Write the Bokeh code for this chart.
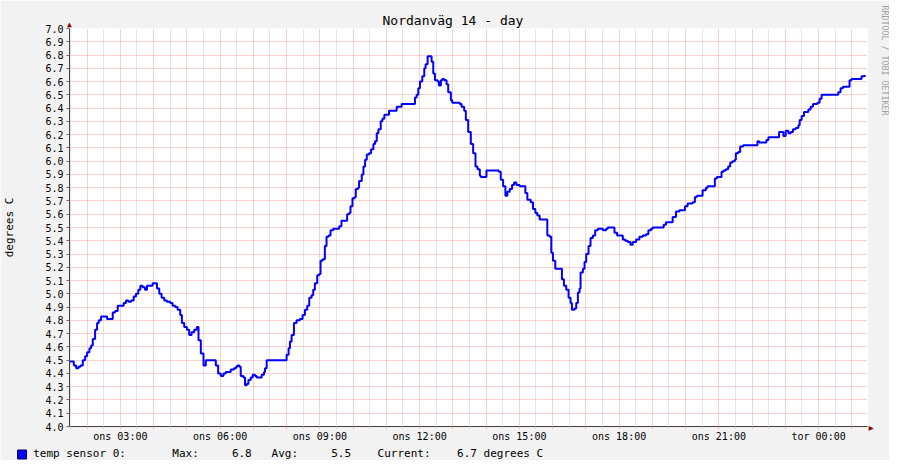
from bokeh.plotting import figure
from bokeh.models import (ColumnDataSource, FixedTicker, Range1d, Title,
                          PrintfTickFormatter)
from bokeh.embed import file_html
from bokeh.resources import INLINE

# ---------------- data ----------------
title_text = "Nordanväg 14 - day"
y_axis_text = "degrees C"
series_name = "temp sensor 0:"
unit_text = "degrees C"
watermark = "RRDTOOL / TOBI OETIKER"
stat_max = 6.8
stat_avg = 5.5
stat_cur = 6.7

x_start, x_end = 1.47, 25.47          # hours counted from "ons 00:00"
y_min, y_max = 4.0, 7.0

x_label_hours = [3, 6, 9, 12, 15, 18, 21, 24]
x_labels = ["ons 03:00", "ons 06:00", "ons 09:00", "ons 12:00",
            "ons 15:00", "ons 18:00", "ons 21:00", "tor 00:00"]
x_hour_ticks = list(range(2, 26))
x_half_ticks = [h + 0.5 for h in range(1, 25)]
y_ticks = [round(4.0 + 0.1 * i, 1) for i in range(31)]

hours = [
    1.47, 1.57, 1.60, 1.67, 1.74, 1.80, 1.87, 1.94, 2.00, 2.07,
    2.12, 2.17, 2.24, 2.30, 2.35, 2.42, 2.52, 2.60, 2.72, 2.77,
    2.84, 2.92, 3.02, 3.10, 3.17, 3.24, 3.32, 3.40, 3.47, 3.54,
    3.60, 3.67, 3.74, 3.80, 3.90, 3.97, 4.04, 4.10, 4.17, 4.24,
    4.32, 4.40, 4.50, 4.57, 4.65, 4.72, 4.80, 4.85, 4.92, 5.00,
    5.07, 5.14, 5.22, 5.30, 5.35, 5.42, 5.50, 5.57, 5.72, 5.82,
    5.87, 5.94, 6.02, 6.10, 6.17, 6.24, 6.32, 6.42,
    6.48, 6.52, 6.58, 6.62, 6.70, 6.75, 6.80, 6.85, 6.92, 6.98,
    7.05, 7.10, 7.22, 7.25, 7.32, 7.35, 7.40, 7.95, 8.00, 8.06,
    8.10, 8.15, 8.22, 8.30, 8.40, 8.48, 8.55, 8.62, 8.68, 8.75,
    8.80, 8.85, 8.92, 8.98, 9.02, 9.08, 9.15, 9.20, 9.26, 9.32,
    9.40, 9.52, 9.58, 9.65, 9.75, 9.82, 9.88, 9.92, 9.98, 10.05,
    10.08, 10.15, 10.18,
    10.26, 10.31, 10.36, 10.41, 10.48, 10.54, 10.61, 10.66, 10.71, 10.76,
    10.83, 10.88, 10.94, 11.04, 11.08, 11.16, 11.26, 11.31, 11.38, 11.46,
    11.81, 11.86, 11.91, 11.96, 12.01, 12.08, 12.14, 12.18, 12.24, 12.31,
    12.36, 12.41, 12.46, 12.54, 12.58, 12.64, 12.68, 12.74, 12.81, 12.86,
    12.94, 12.98, 13.21, 13.26, 13.34, 13.39, 13.46, 13.54, 13.61, 13.68,
    13.74, 13.81,
    13.84, 13.96, 14.01, 14.16, 14.31, 14.38, 14.44, 14.51, 14.58, 14.64,
    14.71, 14.78, 14.84, 14.88, 14.91, 15.01, 15.11, 15.18, 15.24, 15.34,
    15.41, 15.48, 15.54, 15.61, 15.78, 15.84, 15.91, 15.96, 16.01, 16.08,
    16.21, 16.28, 16.34, 16.41, 16.48, 16.54, 16.58, 16.66, 16.71, 16.76,
    16.81, 16.84, 16.91, 16.96, 17.01, 17.08, 17.14, 17.21, 17.28, 17.36,
    17.44,
    17.46, 17.51, 17.61, 17.66, 17.81, 17.86, 17.94, 18.04, 18.11, 18.18,
    18.26, 18.34, 18.41, 18.51, 18.61, 18.71, 18.81, 18.88, 18.96, 19.01,
    19.26, 19.34, 19.41, 19.54, 19.61, 19.71, 19.81, 19.91, 19.98, 20.06,
    20.21, 20.28, 20.34, 20.46, 20.51, 20.61, 20.66, 20.81, 20.88, 20.94,
    21.04, 21.08, 21.14, 21.21, 21.28, 21.34, 21.41, 21.48, 21.51, 21.58,
    21.64,
    21.73, 22.11, 22.16, 22.21, 22.36, 22.43, 22.49, 22.76, 22.81, 22.89,
    22.94, 23.01, 23.09, 23.16, 23.23, 23.31, 23.39, 23.43, 23.49, 23.56,
    23.63, 23.69, 23.76, 23.83, 23.96, 24.03, 24.09, 24.51, 24.59, 24.66,
    24.73, 24.89, 24.93, 24.99, 25.23, 25.29, 25.39,
]

temps = [
    4.49, 4.49, 4.46, 4.44, 4.45, 4.46, 4.50, 4.53, 4.56, 4.59,
    4.61, 4.66, 4.73, 4.78, 4.80, 4.83, 4.83, 4.81, 4.81, 4.86,
    4.87, 4.91, 4.91, 4.93, 4.95, 4.94, 4.95, 4.98, 5.00, 5.03,
    5.06, 5.05, 5.03, 5.06, 5.06, 5.08, 5.08, 5.04, 5.00, 4.97,
    4.95, 4.94, 4.93, 4.91, 4.90, 4.88, 4.84, 4.78, 4.75, 4.73,
    4.69, 4.71, 4.73, 4.75, 4.65, 4.55, 4.46, 4.50, 4.50, 4.50,
    4.46, 4.40, 4.38, 4.40, 4.41, 4.41, 4.43, 4.44,
    4.45, 4.46, 4.45, 4.38, 4.37, 4.31, 4.32, 4.35, 4.37, 4.39,
    4.38, 4.37, 4.37, 4.39, 4.41, 4.44, 4.50, 4.50, 4.54, 4.59,
    4.64, 4.69, 4.78, 4.80, 4.81, 4.84, 4.88, 4.91, 4.97, 4.99,
    5.03, 5.08, 5.14, 5.15, 5.25, 5.26, 5.36, 5.43, 5.44, 5.48,
    5.49, 5.49, 5.51, 5.55, 5.55, 5.60, 5.61, 5.66, 5.72, 5.73,
    5.79, 5.80, 5.85,
    5.90, 5.96, 6.01, 6.05, 6.06, 6.09, 6.13, 6.15, 6.21, 6.24,
    6.30, 6.32, 6.35, 6.35, 6.38, 6.38, 6.38, 6.41, 6.41, 6.43,
    6.43, 6.48, 6.50, 6.55, 6.60, 6.64, 6.70, 6.73, 6.79, 6.79,
    6.75, 6.66, 6.61, 6.60, 6.57, 6.61, 6.62, 6.61, 6.58, 6.52,
    6.46, 6.44, 6.43, 6.41, 6.38, 6.31, 6.22, 6.13, 6.06, 5.96,
    5.94, 5.89,
    5.88, 5.88, 5.93, 5.93, 5.93, 5.92, 5.86, 5.81, 5.74, 5.77,
    5.79, 5.82, 5.84, 5.84, 5.82, 5.81, 5.81, 5.76, 5.71, 5.69,
    5.64, 5.61, 5.59, 5.56, 5.56, 5.44, 5.43, 5.31, 5.25, 5.19,
    5.19, 5.11, 5.06, 5.03, 4.97, 4.93, 4.88, 4.89, 4.93, 5.01,
    5.04, 5.16, 5.19, 5.24, 5.30, 5.36, 5.42, 5.44, 5.48, 5.49,
    5.49,
    5.49, 5.48, 5.49, 5.50, 5.50, 5.46, 5.44, 5.44, 5.41, 5.40,
    5.39, 5.37, 5.39, 5.41, 5.43, 5.44, 5.45, 5.48, 5.49, 5.50,
    5.50, 5.52, 5.54, 5.54, 5.58, 5.62, 5.63, 5.63, 5.66, 5.68,
    5.69, 5.73, 5.74, 5.74, 5.78, 5.80, 5.81, 5.81, 5.87, 5.88,
    5.88, 5.92, 5.93, 5.94, 5.96, 5.99, 6.00, 6.01, 6.06, 6.07,
    6.11,
    6.12, 6.12, 6.15, 6.14, 6.14, 6.16, 6.18, 6.18, 6.22, 6.22,
    6.19, 6.23, 6.21, 6.22, 6.24, 6.25, 6.27, 6.31, 6.34, 6.37,
    6.37, 6.39, 6.41, 6.43, 6.44, 6.47, 6.50, 6.50, 6.52, 6.55,
    6.56, 6.56, 6.61, 6.62, 6.62, 6.64, 6.65,
]

# ---------------- layout ----------------
FONT = "DejaVu Sans Mono"
BG = "#F2F2F2"
ARROW = "#7F0000"
PLOT_W, PLOT_H = 800, 400
FRAME_L, FRAME_B = 67, 428


def hx(page_x):
    return x_start + (page_x - FRAME_L) * (x_end - x_start) / PLOT_W


def ty(page_y):
    return y_min + (FRAME_B - page_y) * (y_max - y_min) / PLOT_H


p = figure(width=889, height=460, output_backend="svg", toolbar_location=None,
           title=title_text,
           x_range=Range1d(x_start, x_end), y_range=Range1d(y_min, y_max),
           min_border_left=67, min_border_right=22,
           min_border_top=28, min_border_bottom=32)
p.outline_line_color = None
p.background_fill_color = "#FFFFFF"
p.border_fill_color = BG

# title (sits outside the small arrow-head panel below it)
p.title.text_font = FONT
p.title.text_font_size = "13px"
p.title.text_font_style = "normal"
p.title.text_color = "#000000"
p.title.align = "left"
p.title.offset = 313
p.title.standoff = -10

MGRID = "#F2A0A0"
GRID = "#C8C8C8"
AXIS = "#404040"

# x axis
p.xaxis.ticker = FixedTicker(ticks=x_hour_ticks, minor_ticks=x_half_ticks)
overrides = {}
for h in x_hour_ticks:
    overrides[h] = ""
for h, lab in zip(x_label_hours, x_labels):
    overrides[h] = lab
p.xaxis.major_label_overrides = overrides
p.xaxis.bounds = (x_start, hx(870))
p.xaxis.major_tick_in = 0
p.xaxis.major_tick_out = 2
p.xaxis.minor_tick_in = 0
p.xaxis.minor_tick_out = 2
p.xaxis.major_tick_line_color = MGRID
p.xaxis.minor_tick_line_color = GRID
p.xaxis.axis_line_color = AXIS
p.xaxis.major_label_text_font = FONT
p.xaxis.major_label_text_font_size = "10px"
p.xaxis.major_label_text_color = "#000000"
p.xaxis.major_label_standoff = 2

p.xgrid.grid_line_color = MGRID
p.xgrid.grid_line_dash = "1 1"
p.xgrid.minor_grid_line_color = GRID
p.xgrid.minor_grid_line_dash = "1 1"

# y axis
p.yaxis.ticker = FixedTicker(ticks=y_ticks)
p.yaxis.formatter = PrintfTickFormatter(format="%.1f")
p.yaxis.bounds = (y_min, ty(25))
p.yaxis.major_tick_in = 0
p.yaxis.major_tick_out = 3
p.yaxis.minor_tick_in = 0
p.yaxis.minor_tick_out = 0
p.yaxis.major_tick_line_color = "#707070"
p.yaxis.axis_line_color = AXIS
p.yaxis.major_label_text_font = FONT
p.yaxis.major_label_text_font_size = "10px"
p.yaxis.major_label_text_color = "#000000"
p.yaxis.major_label_standoff = 3
p.yaxis.axis_label = y_axis_text
p.yaxis.axis_label_text_font = FONT
p.yaxis.axis_label_text_font_size = "11px"
p.yaxis.axis_label_text_font_style = "normal"
p.yaxis.axis_label_text_color = "#000000"
p.yaxis.axis_label_standoff = 26

p.ygrid.grid_line_color = MGRID
p.ygrid.grid_line_dash = "1 1"

# data line
src = ColumnDataSource(dict(h=hours, t=temps))
p.step(x="h", y="t", source=src, mode="after", line_color="#0000FF", line_width=2)

NB = "\u00a0"

# arrow head on top of the y axis
p.add_layout(Title(text="\u25B2", align="left", offset=-2.4, standoff=-5.2,
                   vertical_align="top", text_font=FONT, text_font_size="8px",
                   text_font_style="normal", text_color=ARROW), "above")

# watermark on the right (a blank spacer in the background colour pushes it outward)
p.add_layout(Title(text=NB, standoff=3, text_font=FONT, text_font_size="8px",
                   text_color=BG), "right")
p.add_layout(Title(text=watermark, align="left", offset=-23, standoff=-4,
                   vertical_align="bottom", text_font=FONT, text_font_size="8.3px",
                   text_font_style="normal", text_color="#A0A0A0"), "right")
# arrow head at the end of the x axis (rotated with the right-hand panel)
p.add_layout(Title(text="\u25B2", align="left", offset=397.6, standoff=-46,
                   vertical_align="bottom", text_font=FONT, text_font_size="8px",
                   text_font_style="normal", text_color=ARROW), "right")

# legend line below the x axis
legend_text = (series_name + NB * 7 + "Max:" + NB * 5 + f"{stat_max:.1f}" + NB * 3
               + "Avg:" + NB * 5 + f"{stat_avg:.1f}" + NB * 4 + "Current:" + NB * 4
               + f"{stat_cur:.1f} {unit_text}")
p.add_layout(Title(text=legend_text, align="left", offset=-36.3, standoff=1,
                   vertical_align="bottom", text_font=FONT, text_font_size="11px",
                   text_font_style="normal", text_color="#000000"), "below")
# legend colour swatch
p.add_layout(Title(text=NB + NB, align="left", offset=-52, standoff=-21,
                   vertical_align="top", text_font=FONT, text_font_size="7.5px",
                   text_font_style="normal", text_color="#0000FF",
                   background_fill_color="#0000FF", border_line_color="#000060",
                   border_line_width=1), "below")

open("out.html", "w").write(file_html(p, INLINE))
